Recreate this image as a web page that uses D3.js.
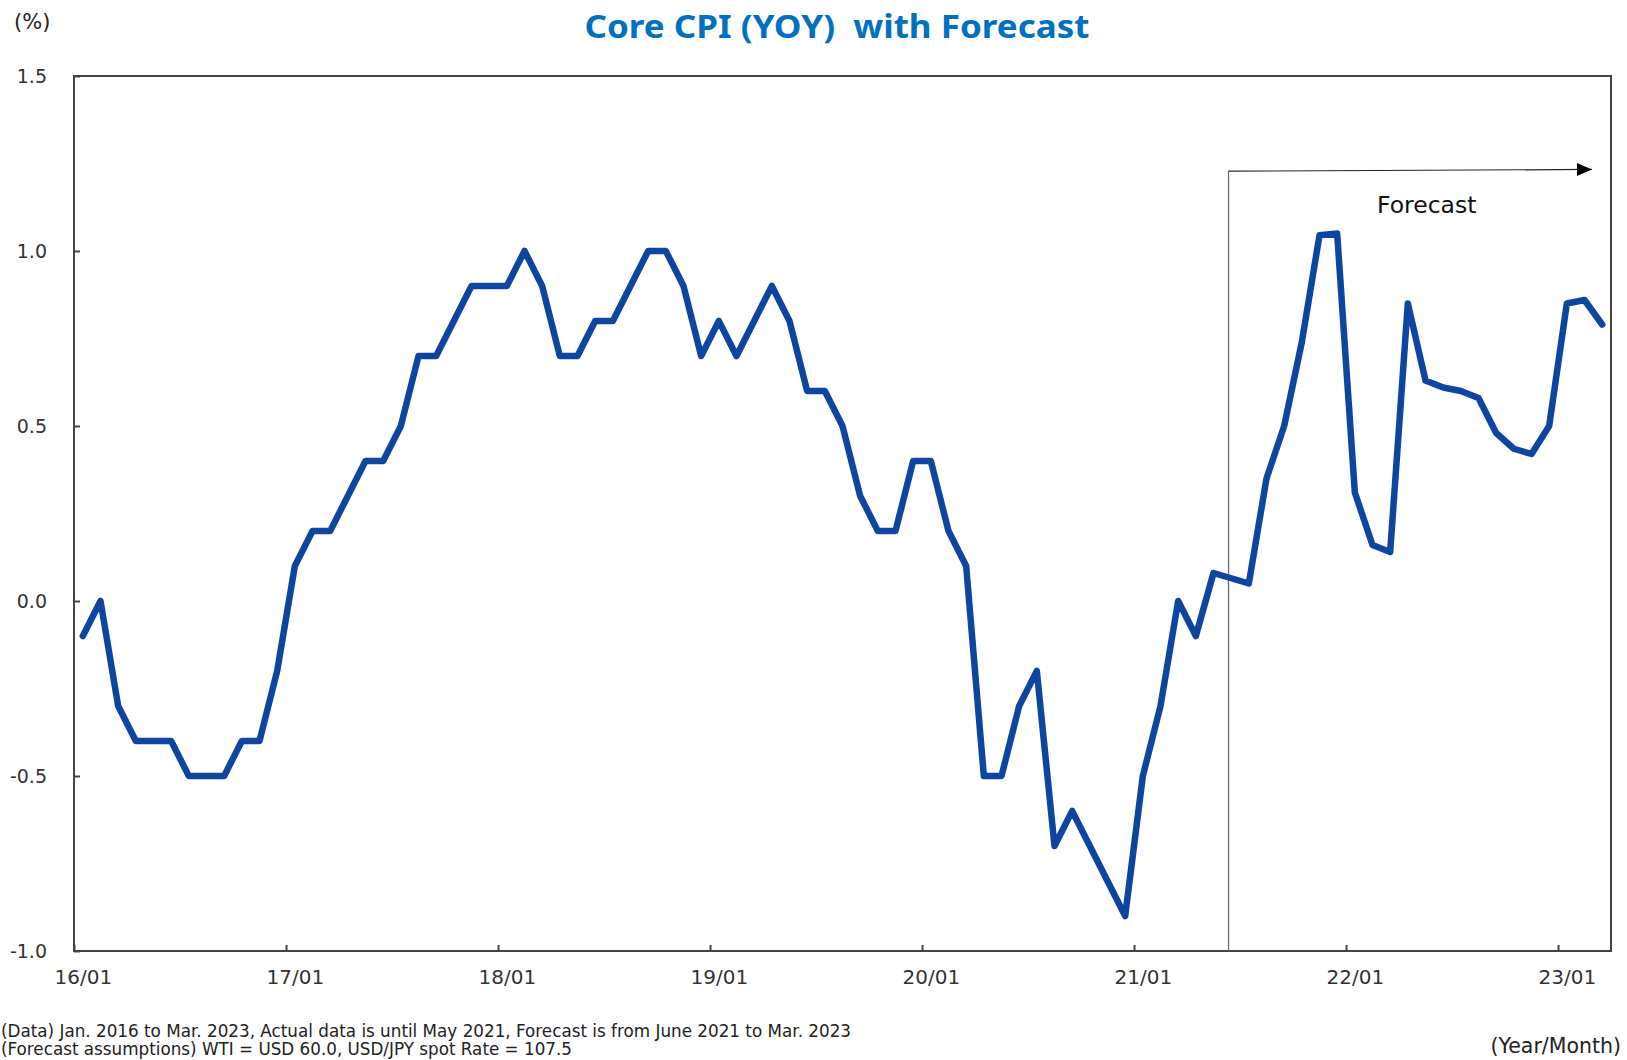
<!DOCTYPE html>
<html>
<head>
<meta charset="utf-8">
<script src="https://d3js.org/d3.v7.min.js"></script>
<style>
  html, body { margin: 0; padding: 0; background: #fff; overflow: hidden; }
  text { font-family: "DejaVu Sans", Verdana, sans-serif; }
</style>
</head>
<body>
<svg id="chart" width="1627" height="1060"></svg>
<script>
// Core CPI, YoY %, Jan 2016 .. May 2021 (actual)
const actual = [
  -0.1, 0.0, -0.3, -0.4, -0.4, -0.4, -0.5, -0.5, -0.5, -0.4, -0.4, -0.2,
  0.1, 0.2, 0.2, 0.3, 0.4, 0.4, 0.5, 0.7, 0.7, 0.8, 0.9, 0.9,
  0.9, 1.0, 0.9, 0.7, 0.7, 0.8, 0.8, 0.9, 1.0, 1.0, 0.9, 0.7,
  0.8, 0.7, 0.8, 0.9, 0.8, 0.6, 0.6, 0.5, 0.3, 0.2, 0.2, 0.4,
  0.4, 0.2, 0.1, -0.5, -0.5, -0.3, -0.2, -0.7, -0.6, -0.7, -0.8, -0.9,
  -0.5, -0.3, 0.0, -0.1, 0.08
];
// Jun 2021 .. Mar 2023 (forecast)
const forecast = [
  0.065, 0.05, 0.35, 0.5, 0.74, 1.045, 1.05,
  0.31, 0.16, 0.14, 0.85, 0.63, 0.61, 0.60, 0.58, 0.48, 0.435, 0.42, 0.50,
  0.85, 0.86, 0.79
];
const yTicks = [-1.0, -0.5, 0.0, 0.5, 1.0, 1.5];
const xTickLabels = ["16/01", "17/01", "18/01", "19/01", "20/01", "21/01", "22/01", "23/01"];

// forecast bracket, in month index / % units
const bracketStart = 65.35;
const bracketEnd = 85.92;
const bracketLevel = [1.228, 1.233];

const values = actual.concat(forecast);

const svg = d3.select("#chart");
const margin = { top: 76, right: 16, bottom: 109, left: 74 };
const width = 1627 - margin.left - margin.right;
const height = 1060 - margin.top - margin.bottom;

const x = d3.scaleLinear().domain([0, values.length]).range([0, width]);
const y = d3.scaleLinear().domain([-1, 1.5]).range([height, 0]);

// title + unit labels
svg.append("text")
    .attr("x", 837).attr("y", 37.5)
    .attr("text-anchor", "middle")
    .attr("textLength", 505).attr("lengthAdjust", "spacingAndGlyphs")
    .style("white-space", "pre")
    .style("font-family", "'Noto Sans', sans-serif")
    .style("font-weight", "bold").style("font-size", "32px")
    .attr("fill", "#0070C0")
    .text("Core CPI (YOY)  with Forecast");

svg.append("text")
    .attr("x", 14).attr("y", 29)
    .style("font-size", "21px").attr("fill", "#222")
    .text("(%)");

const g = svg.append("g")
    .attr("transform", `translate(${margin.left},${margin.top})`);

// y axis
g.append("g")
    .call(d3.axisLeft(y).tickValues(yTicks).tickSize(-6).tickSizeOuter(0)
        .tickPadding(27).tickFormat(d => d.toFixed(1)))
    .call(a => a.select(".domain").remove())
    .call(a => a.selectAll("line").attr("stroke", "#444").attr("stroke-width", 2))
    .call(a => a.selectAll("text").style("font-size", "19px").style("font-family", "'DejaVu Sans', sans-serif").attr("fill", "#333"));

// x axis: ticks on year boundaries, labels centred on January
g.append("g")
    .attr("transform", `translate(0,${height})`)
    .call(d3.axisBottom(x).tickValues(xTickLabels.map((_, i) => i * 12))
        .tickSize(-6).tickSizeOuter(0).tickFormat(""))
    .call(a => a.select(".domain").remove())
    .call(a => a.selectAll("line").attr("stroke", "#444").attr("stroke-width", 2));

g.append("g")
    .attr("transform", `translate(0,${height})`)
    .call(d3.axisBottom(x).tickValues(xTickLabels.map((_, i) => i * 12 + 0.5))
        .tickSize(0).tickPadding(19).tickFormat((d, i) => xTickLabels[i]))
    .call(a => a.select(".domain").remove())
    .call(a => a.selectAll("text").style("font-size", "20px").style("font-family", "'DejaVu Sans', sans-serif").attr("fill", "#333"));

// frame
g.append("rect")
    .attr("width", width).attr("height", height)
    .attr("fill", "none").attr("stroke", "#444").attr("stroke-width", 2);

// forecast bracket
svg.append("defs").append("marker")
    .attr("id", "arrow")
    .attr("markerUnits", "userSpaceOnUse")
    .attr("markerWidth", 15).attr("markerHeight", 13)
    .attr("refX", 15).attr("refY", 6.5)
    .attr("orient", "auto")
    .append("path").attr("d", "M0,0 L15,6.5 L0,13 Z").attr("fill", "#000");

g.append("line")
    .attr("x1", x(bracketStart)).attr("x2", x(bracketStart))
    .attr("y1", y(bracketLevel[0])).attr("y2", height)
    .attr("stroke", "#666").attr("stroke-width", 1.2);

g.append("line")
    .attr("x1", x(bracketStart)).attr("x2", x(bracketEnd))
    .attr("y1", y(bracketLevel[0])).attr("y2", y(bracketLevel[1]))
    .attr("stroke", "#222").attr("stroke-width", 1.2)
    .attr("marker-end", "url(#arrow)");

g.append("text")
    .attr("x", x(76.57)).attr("y", y(1.109))
    .attr("text-anchor", "middle")
    .style("font-size", "23.5px").attr("fill", "#111")
    .text("Forecast");

// series line
const line = d3.line()
    .x((d, i) => x(i + 0.5))
    .y(d => y(d));

g.append("path")
    .datum(values)
    .attr("d", line)
    .attr("fill", "none")
    .attr("stroke", "#0D45A0")
    .attr("stroke-width", 6.5)
    .attr("stroke-linejoin", "round")
    .attr("stroke-linecap", "round");

// notes
svg.append("text")
    .attr("x", 1).attr("y", 1037)
    .attr("textLength", 850).attr("lengthAdjust", "spacingAndGlyphs")
    .style("font-size", "18px").attr("fill", "#222")
    .text("(Data) Jan. 2016 to Mar. 2023, Actual data is until May 2021, Forecast is from June 2021 to Mar. 2023");

svg.append("text")
    .attr("x", 1).attr("y", 1055)
    .attr("textLength", 571).attr("lengthAdjust", "spacingAndGlyphs")
    .style("font-size", "18px").attr("fill", "#222")
    .text("(Forecast assumptions) WTI = USD 60.0, USD/JPY spot Rate = 107.5");

svg.append("text")
    .attr("x", 1621).attr("y", 1053)
    .attr("text-anchor", "end")
    .style("font-size", "20.5px").attr("fill", "#222")
    .text("(Year/Month)");
</script>
</body>
</html>
